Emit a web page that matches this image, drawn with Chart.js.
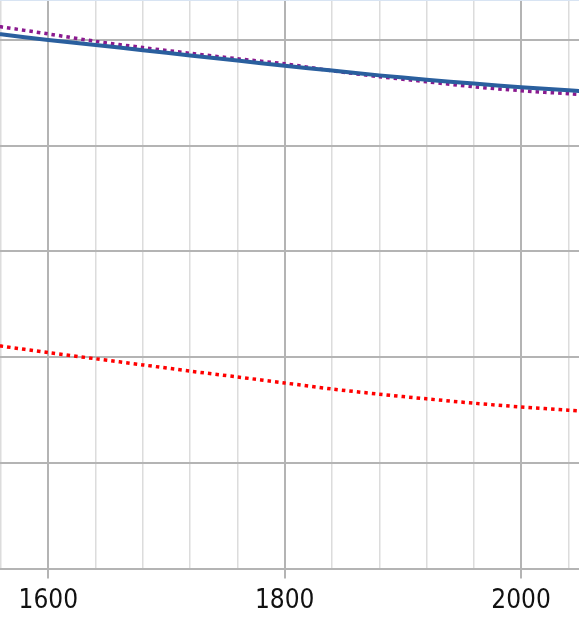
<!DOCTYPE html>
<html>
<head>
<meta charset="utf-8">
<script src="https://cdn.jsdelivr.net/npm/chart.js@4.4.1/dist/chart.umd.min.js"></script>
<style>
  body { margin: 0; background: #fff; }
  canvas { display: block; }
</style>
</head>
<body>
<canvas id="chart" width="579" height="619"></canvas>
<script>
// Years along the x axis (points run a little past both edges of the view)
const years = [1540, 1560, 1600, 1640, 1680, 1720, 1760, 1800, 1840, 1880, 1920, 1960, 2000, 2040, 2060];

// Series values
const blueSeries = [50.78, 50.53, 50.0, 49.53, 49.03, 48.54, 48.05, 47.55, 47.1, 46.65, 46.24, 45.88, 45.53, 45.24, 45.09];
const purpleSeries = [51.58, 51.24, 50.57, 49.87, 49.28, 48.74, 48.22, 47.74, 47.09, 46.53, 46.05, 45.57, 45.2, 44.91, 44.77];
const redSeries = [21.33, 21.04, 20.43, 19.84, 19.26, 18.67, 18.12, 17.55, 16.98, 16.49, 16.05, 15.64, 15.28, 14.98, 14.82];

// Labelled x ticks (every 200), minor grid every 40
const xTickLabels = [1600, 1800, 2000];

const majorGrid = "#b4b4b4";
const minorGrid = "#dcdcdc";

function toPoints(values) {
  return years.map((yr, i) => ({ x: yr, y: values[i] }));
}

// thin light-blue rule along the top edge
const topRule = {
  id: "topRule",
  afterDraw(chart) {
    const ctx = chart.ctx;
    ctx.save();
    ctx.strokeStyle = "#d8e4f3";
    ctx.lineWidth = 1;
    ctx.beginPath();
    ctx.moveTo(0, 0.5);
    ctx.lineTo(chart.width, 0.5);
    ctx.stroke();
    ctx.restore();
  },
};

const isMajor = (v) => xTickLabels.includes(v);

new Chart(document.getElementById("chart"), {
  type: "line",
  data: {
    datasets: [
      {
        data: toPoints(redSeries),
        borderColor: "#ff0000",
        borderWidth: 3.5,
        borderDash: [3.5, 4],
        pointRadius: 0,
        tension: 0.3,
      },
      {
        data: toPoints(blueSeries),
        borderColor: "#2a5f9e",
        borderWidth: 4,
        pointRadius: 0,
        tension: 0.3,
      },
      {
        data: toPoints(purpleSeries),
        borderColor: "#8a1a8f",
        borderWidth: 3.5,
        borderDash: [3.5, 4],
        pointRadius: 0,
        tension: 0.3,
      },
    ],
  },
  options: {
    responsive: false,
    animation: false,
    layout: { autoPadding: false, padding: 0 },
    plugins: { legend: { display: false }, tooltip: { enabled: false } },
    scales: {
      x: {
        type: "linear",
        min: 1559.1,
        max: 2049,
        afterFit: (scale) => { scale.height = 50.5; },
        border: { color: majorGrid, width: 2 },
        grid: {
          color: (c) => (isMajor(c.tick && c.tick.value) ? majorGrid : minorGrid),
          lineWidth: (c) => (isMajor(c.tick && c.tick.value) ? 2 : 1.5),
          tickColor: (c) => (isMajor(c.tick && c.tick.value) ? majorGrid : "rgba(0,0,0,0)"),
          tickWidth: 2,
          tickLength: 10,
        },
        ticks: {
          stepSize: 40,
          includeBounds: false,
          autoSkip: false,
          maxRotation: 0,
          padding: 0,
          color: "#111",
          font: { family: "'DejaVu Sans Condensed', 'DejaVu Sans', sans-serif", size: 26, lineHeight: 1.74 },
          callback: (v) => (isMajor(v) ? String(v) : ""),
        },
      },
      y: {
        min: 0,
        max: 53.78,
        afterFit: (scale) => { scale.width = 0; },
        border: { display: false },
        grid: { color: majorGrid, lineWidth: 2, drawTicks: false },
        ticks: { display: false, stepSize: 10, includeBounds: false },
      },
    },
  },
  plugins: [topRule],
});
</script>
</body>
</html>
